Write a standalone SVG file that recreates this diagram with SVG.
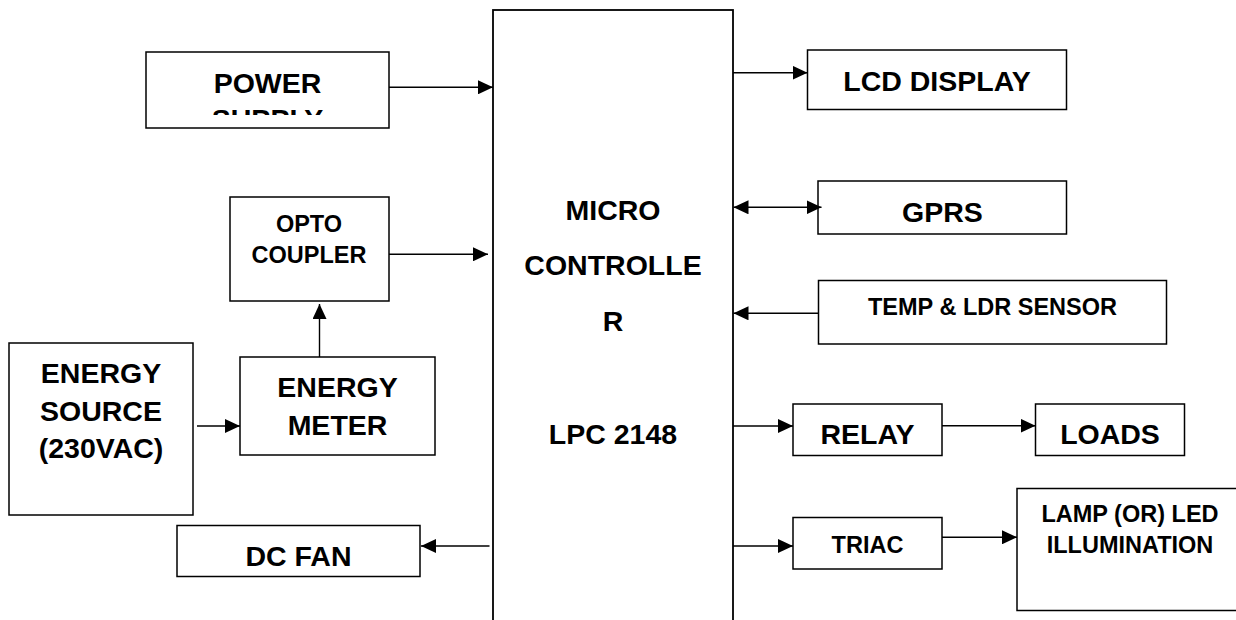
<svg xmlns="http://www.w3.org/2000/svg" width="1236" height="620" viewBox="0 0 1236 620">
  <style>
    .box { fill: #ffffff; stroke: #000000; stroke-width: 1.5; }
    .lbl { font-family: "Liberation Sans", Arial, sans-serif; font-weight: bold; fill: #000000; text-anchor: middle; }
    .big { font-size: 28.5px; }
    .sm { font-size: 23.5px; }
    .con { stroke: #000000; stroke-width: 1.4; fill: none; }
  </style>
  <defs>
    <marker id="arr" markerUnits="userSpaceOnUse" markerWidth="15" markerHeight="14" refX="15" refY="7" orient="auto-start-reverse" viewBox="0 0 15 14">
      <path d="M0,0 L15,7 L0,14 z" fill="#000000"/>
    </marker>
    <clipPath id="psclip">
      <rect x="146" y="52" width="243" height="63"/>
    </clipPath>
  </defs>
  <rect x="0" y="0" width="1236" height="620" fill="#ffffff"/>

  <g id="mcu">
    <rect class="box" x="493" y="10" width="240" height="640" style="stroke-width:1.8"/>
    <text class="lbl big" x="613" y="220">MICRO</text>
    <text class="lbl big" x="613" y="275">CONTROLLE</text>
    <text class="lbl big" x="613" y="331">R</text>
    <text class="lbl big" x="613" y="444">LPC 2148</text>
  </g>

  <g id="power-supply">
    <rect class="box" x="146" y="52" width="243" height="76"/>
    <g clip-path="url(#psclip)">
      <text class="lbl big" x="267.5" y="93">POWER</text>
      <text class="lbl big" x="267.5" y="128.5">SUPPLY</text>
    </g>
  </g>

  <g id="opto-coupler">
    <rect class="box" x="230" y="197" width="159" height="104"/>
    <text class="lbl sm" x="309" y="232">OPTO</text>
    <text class="lbl sm" x="309" y="263">COUPLER</text>
  </g>

  <g id="energy-source">
    <rect class="box" x="9" y="343" width="184" height="172"/>
    <text class="lbl big" x="101" y="383">ENERGY</text>
    <text class="lbl big" x="101" y="420.5">SOURCE</text>
    <text class="lbl big" x="101" y="457.5">(230VAC)</text>
  </g>

  <g id="energy-meter">
    <rect class="box" x="240" y="357" width="195" height="98"/>
    <text class="lbl big" x="337.5" y="397">ENERGY</text>
    <text class="lbl big" x="337.5" y="434.5">METER</text>
  </g>

  <g id="dc-fan">
    <rect class="box" x="177" y="525.5" width="243" height="51"/>
    <text class="lbl big" x="298.5" y="565.5">DC FAN</text>
  </g>

  <g id="lcd-display">
    <rect class="box" x="807.5" y="50" width="259" height="59.5"/>
    <text class="lbl big" x="937" y="90.5">LCD DISPLAY</text>
  </g>

  <g id="gprs">
    <rect class="box" x="818" y="181" width="248.5" height="53"/>
    <text class="lbl big" x="942.5" y="221.5">GPRS</text>
  </g>

  <g id="temp-ldr-sensor">
    <rect class="box" x="818.5" y="280.5" width="348" height="63.5"/>
    <text class="lbl sm" x="992.5" y="315">TEMP &amp; LDR SENSOR</text>
  </g>

  <g id="relay">
    <rect class="box" x="793" y="404" width="149" height="51.5"/>
    <text class="lbl big" x="867.5" y="444">RELAY</text>
  </g>

  <g id="loads">
    <rect class="box" x="1035.5" y="404" width="149" height="51.5"/>
    <text class="lbl big" x="1110" y="444">LOADS</text>
  </g>

  <g id="triac">
    <rect class="box" x="793" y="517.5" width="149" height="51.5"/>
    <text class="lbl sm" x="867.5" y="552.5">TRIAC</text>
  </g>

  <g id="lamp-led">
    <rect class="box" x="1017" y="488.5" width="240" height="122"/>
    <text class="lbl sm" x="1130" y="521.5">LAMP (OR) LED</text>
    <text class="lbl sm" x="1130" y="552.5">ILLUMINATION</text>
  </g>

  <g id="connectors">
    <line class="con" x1="389" y1="87.3" x2="493" y2="87.3" marker-end="url(#arr)"/>
    <line class="con" x1="389" y1="254.3" x2="488" y2="254.3" marker-end="url(#arr)"/>
    <line class="con" x1="319.5" y1="357" x2="319.5" y2="304" marker-end="url(#arr)"/>
    <line class="con" x1="197" y1="426" x2="240" y2="426" marker-end="url(#arr)"/>
    <line class="con" x1="489.5" y1="546" x2="421" y2="546" marker-end="url(#arr)"/>
    <line class="con" x1="733" y1="72.7" x2="807.5" y2="72.7" marker-end="url(#arr)"/>
    <line class="con" x1="733.5" y1="207.3" x2="821.5" y2="207.3" marker-start="url(#arr)" marker-end="url(#arr)"/>
    <line class="con" x1="818.5" y1="313.3" x2="733.5" y2="313.3" marker-end="url(#arr)"/>
    <line class="con" x1="733" y1="426" x2="793" y2="426" marker-end="url(#arr)"/>
    <line class="con" x1="942" y1="425.7" x2="1035.5" y2="425.7" marker-end="url(#arr)"/>
    <line class="con" x1="733" y1="546" x2="793" y2="546" marker-end="url(#arr)"/>
    <line class="con" x1="942" y1="537.3" x2="1017" y2="537.3" marker-end="url(#arr)"/>
  </g>
</svg>
